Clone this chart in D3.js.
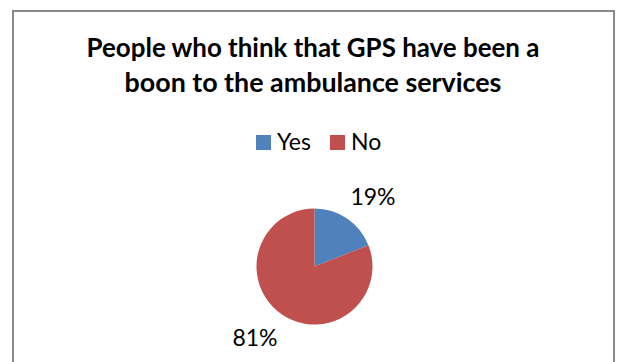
<!DOCTYPE html>
<html>
<head>
<meta charset="utf-8">
<script src="https://cdn.jsdelivr.net/npm/d3@7"></script>
<style>
  body { margin: 0; background: #fff; }
  text { font-family: "Lato", "Open Sans", sans-serif; fill: #000; }
</style>
</head>
<body>
<div id="chart"></div>
<script>
var categories = ['Yes', 'No']
var values = [19, 81]
var labels = ['19%', '81%']
var colors = ['#4f81bd', '#c0504d']
var titleLines = ['People who think that GPS have been a', 'boon to the ambulance services']

var width = 617, height = 362

var svg = d3.select('#chart').append('svg')
  .attr('width', width).attr('height', height)

// chart frame, bottom edge runs off the picture
svg.append('path')
  .attr('d', 'M13,' + (height + 5) + 'V11H614V' + (height + 5))
  .attr('fill', 'none').attr('stroke', '#898989').attr('stroke-width', 2)

// shrink/grow font so a line fills the width it has in the reference
function fit(sel, target) {
  var w = sel.node().getComputedTextLength()
  var fs = parseFloat(sel.attr('font-size'))
  sel.attr('font-size', fs * target / w)
}

var titleWidths = [453, 377]
titleLines.forEach(function(t, i) {
  var s = svg.append('text')
    .attr('x', 313).attr('y', 57 + i * 35)
    .attr('text-anchor', 'middle')
    .attr('font-weight', 'bold')
    .attr('font-size', 24)
    .text(t)
  fit(s, titleWidths[i])
})

// legend
var legX = [256, 330]
var leg = svg.selectAll('g.leg').data(categories).join('g')
  .attr('class', 'leg')
  .attr('transform', function(d, i) { return 'translate(' + legX[i] + ',135)' })
leg.append('rect').attr('width', 15).attr('height', 15)
  .attr('fill', function(d, i) { return colors[i] })
leg.append('text').attr('x', 21).attr('y', 15).attr('font-size', 23)
  .text(function(d) { return d })

// pie
var cx = 314.5, cy = 266.5, r = 58
var pie = d3.pie().sort(null)
var arc = d3.arc().innerRadius(0).outerRadius(r)
var g = svg.append('g').attr('transform', 'translate(' + cx + ',' + cy + ')')
var arcs = pie(values)
g.selectAll('path').data(arcs).join('path')
  .attr('d', arc)
  .attr('fill', function(d, i) { return colors[i] })

// data labels sit outside the pie
var labelPos = [[373, 205], [255, 346]]
svg.selectAll('text.lab').data(arcs).join('text')
  .attr('class', 'lab')
  .attr('x', function(d, i) { return labelPos[i][0] })
  .attr('y', function(d, i) { return labelPos[i][1] })
  .attr('text-anchor', 'middle')
  .attr('font-size', 23)
  .text(function(d, i) { return labels[i] })
</script>
</body>
</html>
